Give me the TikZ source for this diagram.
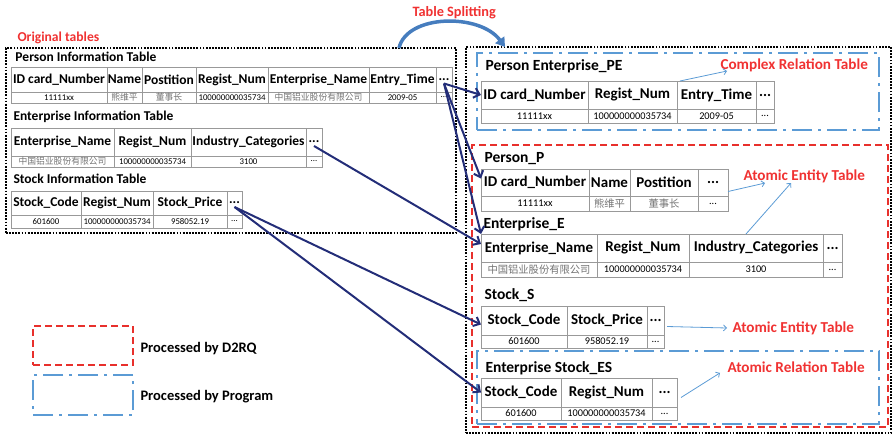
\documentclass[tikz,border=0pt]{standalone}
\usepackage{fontspec}
\setmainfont{Carlito}
\newfontfamily\cjk{Noto Sans CJK SC}
\usetikzlibrary{arrows.meta}

\definecolor{navy}{RGB}{35,45,120}
\definecolor{lblred}{RGB}{240,50,50}
\definecolor{boxred}{RGB}{232,48,44}
\definecolor{progblue}{RGB}{91,155,213}
\definecolor{splitblue}{RGB}{70,125,190}
\newcommand{\zhtext}[1]{{\cjk\color{black!55}#1}}
\newcommand{\moredots}{...}

\tikzset{
every picture/.style={
line width=1pt
},
cell/.style={draw=black!40, line width=0.8pt, inner sep=0pt, outer sep=0pt, anchor=north west},
lhead/.style={cell, font=\bfseries\fontsize{13.5}{14}\selectfont},
ldata/.style={cell, font=\fontsize{8.8}{9}\selectfont},
rhead/.style={cell, font=\bfseries\fontsize{15}{16}\selectfont},
rdata/.style={cell, font=\fontsize{10.3}{11}\selectfont},
ltitle/.style={anchor=west, inner sep=0pt, font=\bfseries\fontsize{13.5}{14}\selectfont},
rtitle/.style={anchor=west, inner sep=0pt, font=\bfseries\fontsize{15.5}{16}\selectfont},
redlbl/.style={anchor=west, inner sep=0pt, text=lblred, font=\bfseries\fontsize{15.2}{16}\selectfont},
keytext/.style={anchor=west, inner sep=0pt, font=\bfseries\fontsize{14.5}{15}\selectfont},
origbox/.style={draw, line width=1.8pt, dash pattern=on 1.8pt off 1.3pt, anchor=north west, inner sep=0pt, outer sep=0pt},
d2rqbox/.style={draw=boxred, line width=2pt, dash pattern=on 7pt off 4pt, anchor=north west, inner sep=0pt, outer sep=0pt},
progbox/.style={draw=progblue, line width=2.4pt, dash pattern=on 20pt off 6pt on 3pt off 6pt, anchor=north west, inner sep=0pt, outer sep=0pt},
maparrow/.style={draw=navy, line width=2pt, -{Straight Barb[length=5.5pt,width=10pt]}},
noteline/.style={draw=progblue, line width=0.8pt, -{Straight Barb[length=3pt,width=6pt]}},
splitarrow/.style={draw=splitblue, line width=3.5pt, -{Triangle[length=9pt,width=11pt]}}
}

\begin{document}
\begin{tikzpicture}[x=1pt, y=-1pt]
  \useasboundingbox (0,0) rectangle (893,434);

  % frames
  \node (orig) [origbox, minimum width=450pt, minimum height=185pt] at (6,48) {};
  \node (split) [origbox, minimum width=425pt, minimum height=386pt] at (466,47) {};
  \node (pebox) [progbox, minimum width=402pt, minimum height=77pt] at (477,53) {};
  \node (d2rqbox) [d2rqbox, minimum width=416pt, minimum height=282pt] at (472,145) {};
  \node (esbox) [progbox, minimum width=402pt, minimum height=73pt] at (477,351) {};

  \node (origlbl) [redlbl, font=\bfseries\fontsize{13.6}{14}\selectfont] at (17,38) {Original tables};
  \node (splitlbl) [redlbl, font=\bfseries\fontsize{14.3}{15}\selectfont] at (412,13) {Table Splitting};

  % original tables
  \node (pitl) [ltitle] at (15,57) {Person Information Table};
  \node (pit-h0) [inner sep=0pt, minimum size=0pt, outer sep=0pt] at (11,67) {};
  \foreach \w/\h/\d [count=\i, remember=\i as \j (initially 0)] in
    {96/ID card\_Number/11111xx, 35/Name/\zhtext{熊维平}, 54/Postition/\zhtext{董事长},
     72/Regist\_Num/100000000035734, 101/Enterprise\_Name/\zhtext{中国铝业股份有限公司},
     67/Entry\_Time/2009-05, 16/\moredots/\moredots}
  {
    \node (pit-h\i) [lhead, minimum width=\w pt, minimum height=25pt] at (pit-h\j.north east) {\h};
    \node (pit-d\i) [ldata, minimum width=\w pt, minimum height=11pt] at (pit-h\i.south west) {\d};
  }

  \node (eitl) [ltitle] at (13,117) {Enterprise Information Table};
  \node (eit-h0) [inner sep=0pt, minimum size=0pt, outer sep=0pt] at (11,128) {};
  \foreach \w/\h/\d [count=\i, remember=\i as \j (initially 0)] in
    {103/Enterprise\_Name/\zhtext{中国铝业股份有限公司}, 77/Regist\_Num/100000000035734,
     115/Industry\_Categories/3100, 16/\moredots/\moredots}
  {
    \node (eit-h\i) [lhead, minimum width=\w pt, minimum height=28pt] at (eit-h\j.north east) {\h};
    \node (eit-d\i) [ldata, minimum width=\w pt, minimum height=11pt] at (eit-h\i.south west) {\d};
  }

  \node (sitl) [ltitle] at (13,179) {Stock Information Table};
  \node (sit-h0) [inner sep=0pt, minimum size=0pt, outer sep=0pt] at (11,191) {};
  \foreach \w/\h/\d [count=\i, remember=\i as \j (initially 0)] in
    {70/Stock\_Code/601600, 72/Regist\_Num/100000000035734, 74/Stock\_Price/958052.19, 15/\moredots/\moredots}
  {
    \node (sit-h\i) [lhead, minimum width=\w pt, minimum height=24pt] at (sit-h\j.north east) {\h};
    \node (sit-d\i) [ldata, minimum width=\w pt, minimum height=13pt] at (sit-h\i.south west) {\d};
  }

  % split tables
  \node (petl) [rtitle] at (485,66) {Person Enterprise\_PE};
  \node (pet-h0) [inner sep=0pt, minimum size=0pt, outer sep=0pt] at (481,81) {};
  \foreach \w/\h/\d [count=\i, remember=\i as \j (initially 0)] in
    {107/ID card\_Number/11111xx, 89/Regist\_Num/100000000035734, 79/Entry\_Time/2009-05, 18/\moredots/\moredots}
  {
    \node (pet-h\i) [rhead, minimum width=\w pt, minimum height=28pt] at (pet-h\j.north east) {\h};
    \node (pet-d\i) [rdata, minimum width=\w pt, minimum height=14pt] at (pet-h\i.south west) {\d};
  }

  \node (pptl) [rtitle] at (484,159) {Person\_P};
  \node (ppt-h0) [inner sep=0pt, minimum size=0pt, outer sep=0pt] at (481,169) {};
  \foreach \w/\h/\d [count=\i, remember=\i as \j (initially 0)] in
    {108/ID card\_Number/11111xx, 41/Name/\zhtext{熊维平}, 68/Postition/\zhtext{董事长}, 30/\moredots/\moredots}
  {
    \node (ppt-h\i) [rhead, minimum width=\w pt, minimum height=27pt] at (ppt-h\j.north east) {\h};
    \node (ppt-d\i) [rdata, minimum width=\w pt, minimum height=15pt] at (ppt-h\i.south west) {\d};
  }

  \node (eetl) [rtitle] at (483,224) {Enterprise\_E};
  \node (eet-h0) [inner sep=0pt, minimum size=0pt, outer sep=0pt] at (481,234) {};
  \foreach \w/\h/\d [count=\i, remember=\i as \j (initially 0)] in
    {116/Enterprise\_Name/\zhtext{中国铝业股份有限公司}, 92/Regist\_Num/100000000035734,
     134/Industry\_Categories/3100, 19/\moredots/\moredots}
  {
    \node (eet-h\i) [rhead, minimum width=\w pt, minimum height=28pt] at (eet-h\j.north east) {\h};
    \node (eet-d\i) [rdata, minimum width=\w pt, minimum height=15pt] at (eet-h\i.south west) {\d};
  }

  \node (sstl) [rtitle] at (484,295) {Stock\_S};
  \node (sst-h0) [inner sep=0pt, minimum size=0pt, outer sep=0pt] at (481,306) {};
  \foreach \w/\h/\d [count=\i, remember=\i as \j (initially 0)] in
    {86/Stock\_Code/601600, 80/Stock\_Price/958052.19, 17/\moredots/\moredots}
  {
    \node (sst-h\i) [rhead, minimum width=\w pt, minimum height=29pt] at (sst-h\j.north east) {\h};
    \node (sst-d\i) [rdata, minimum width=\w pt, minimum height=13pt] at (sst-h\i.south west) {\d};
  }

  \node (estl) [rtitle] at (485,368) {Enterprise Stock\_ES};
  \node (est-h0) [inner sep=0pt, minimum size=0pt, outer sep=0pt] at (481,378) {};
  \foreach \w/\h/\d [count=\i, remember=\i as \j (initially 0)] in
    {80/Stock\_Code/601600, 91/Regist\_Num/100000000035734, 25/\moredots/\moredots}
  {
    \node (est-h\i) [rhead, minimum width=\w pt, minimum height=29pt] at (est-h\j.north east) {\h};
    \node (est-d\i) [rdata, minimum width=\w pt, minimum height=13pt] at (est-h\i.south west) {\d};
  }

  % kinds of table
  \node (cplx) [redlbl] at (720,65) {Complex Relation Table};
  \node (ent1) [redlbl] at (743,176) {Atomic Entity Table};
  \node (ent2) [redlbl] at (732,328) {Atomic Entity Table};
  \node (rel) [redlbl] at (727,367) {Atomic Relation Table};

  \draw [noteline] ([xshift=3pt]pet-h3.north west) -- ([xshift=7pt,yshift=-6pt]cplx.west);
  \draw [noteline] ([yshift=-9pt]ppt-h4.east) -- ([xshift=22pt]ent1.south west);
  \draw [noteline] ([xshift=-10pt]eet-h3.north) -- ([xshift=48pt]ent1.south west);
  \draw [noteline] ([xshift=3pt,yshift=-6pt]sst-h3.east) -- ([xshift=-5pt]ent2.west);
  \draw [noteline] ([xshift=4pt,yshift=-5pt]est-h3.east) -- ([xshift=-7pt]rel.south west);

  % splitting
  \draw [splitarrow] ([xshift=-57pt]orig.north east) .. controls +(8,-34) and +(-25,-34) .. ([xshift=39pt]split.north west);

  \draw [maparrow] ([yshift=-4pt]pit-h7.center) -- (pet-h1.west);
  \draw [maparrow] ([yshift=-4pt]pit-h7.center) -- ([yshift=4pt]ppt-h1.west);
  \draw [maparrow] ([yshift=-4pt]pit-h7.center) -- (eet-h1.north west);
  \draw [maparrow] ([yshift=-4pt]eit-h4.center) -- ([yshift=4pt]eet-h1.west);
  \draw [maparrow] ([yshift=-4pt]sit-h4.center) -- ([yshift=-4pt]sst-h1.west);
  \draw [maparrow] ([yshift=-4pt]sit-h4.center) -- (est-h1.west);

  % legend
  \node (d2rqkey) [d2rqbox, minimum width=100pt, minimum height=39pt] at (33,326) {};
  \node (progkey) [progbox, minimum width=100pt, minimum height=40pt] at (33,375) {};
  \node (d2rqtxt) [keytext] at (140,349) {Processed by D2RQ};
  \node (progtxt) [keytext] at (140,397) {Processed by Program};

\end{tikzpicture}
\end{document}
